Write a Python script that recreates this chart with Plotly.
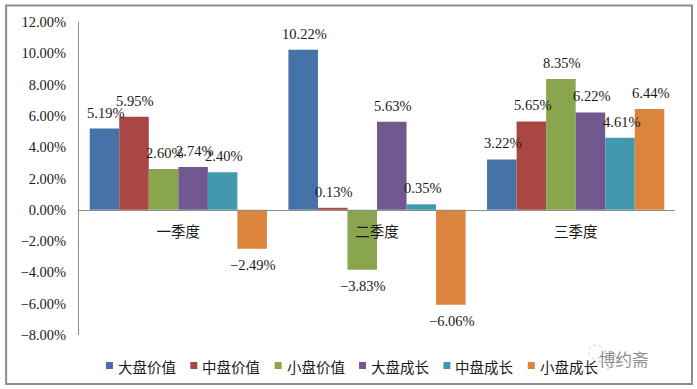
import plotly.graph_objects as go

categories = ["一季度", "二季度", "三季度"]
series_names = ["大盘价值", "中盘价值", "小盘价值", "大盘成长", "中盘成长", "小盘成长"]
colors = ["#4572A7", "#AA4643", "#89A54E", "#71588F", "#4198AF", "#DB843D"]
s_large_value = [5.19, 10.22, 3.22]
s_mid_value = [5.95, 0.13, 5.65]
s_small_value = [2.60, -3.83, 8.35]
s_large_growth = [2.74, 5.63, 6.22]
s_mid_growth = [2.40, 0.35, 4.61]
s_small_growth = [-2.49, -6.06, 6.44]
all_series = [s_large_value, s_mid_value, s_small_value, s_large_growth, s_mid_growth, s_small_growth]
y_ticks = [-8, -6, -4, -2, 0, 2, 4, 6, 8, 10, 12]
y_tick_labels = ["−8.00%", "−6.00%", "−4.00%", "−2.00%", "0.00%", "2.00%", "4.00%", "6.00%", "8.00%", "10.00%", "12.00%"]

W, H = 697, 389
L, R, T, B = 78.5, 675.5, 22, 335
PW, PH = R - L, B - T
BAR = 29.6
LATIN = "Liberation Serif"
CJK = "Noto Sans CJK SC"
TXT = "#1a1a1a"

def px(x):
    return (x - L) / PW

def py(y):
    return (B - y) / PH

fig = go.Figure()
ann = []
for i, (name, vals) in enumerate(zip(series_names, all_series)):
    fig.add_trace(go.Bar(x=categories, y=vals, name=name, marker=dict(color=colors[i], line_width=0),
                         showlegend=False))
    for c, v in zip(categories, vals):
        ann.append(dict(x=c, y=v, xref="x", yref="y", text=f"{v:.2f}%".replace("-", "−"), showarrow=False,
                        xshift=(i - 2.5) * BAR + 1, yshift=16 if v >= 0 else -16, yanchor="middle",
                        font=dict(family=LATIN, size=14.5, color=TXT)))

shapes = [dict(type="rect", xref="paper", yref="paper", x0=px(5.5), x1=px(692.5), y0=py(5.5), y1=py(384),
               line=dict(color="#8c8c8c", width=2), layer="below")]
for i, name in enumerate(series_names):
    mx = 105.5 + i * 84.5
    shapes.append(dict(type="rect", xref="paper", yref="paper", x0=px(mx), x1=px(mx + 7), y0=py(362), y1=py(369),
                       fillcolor=colors[i], line_width=0))
    ann.append(dict(x=px(mx + 10), y=py(366), xref="paper", yref="paper", text=name, showarrow=False,
                    xanchor="left", yanchor="middle", font=dict(family=CJK, size=14.5, color=TXT)))

# watermark
shapes.append(dict(type="circle", xref="paper", yref="paper", x0=px(589), x1=px(603), y0=py(345), y1=py(359),
                   line=dict(color="#cfcfcf", width=1, dash="dot")))
shapes.append(dict(type="circle", xref="paper", yref="paper", x0=px(600), x1=px(617), y0=py(351), y1=py(369),
                   fillcolor="rgba(255,255,255,0.6)", line=dict(color="#c4c4c4", width=1, dash="dot")))
ann.append(dict(x=px(651), y=py(359), xref="paper", yref="paper", text="博约斋", showarrow=False,
                yanchor="middle", font=dict(family=CJK, size=16.5, color="#8f8f8f")))

fig.update_layout(
    width=W, height=H, autosize=False,
    margin=dict(l=L, r=W - R, t=T, b=H - B),
    paper_bgcolor="white", plot_bgcolor="white",
    barmode="group", bargap=0.108, bargroupgap=0,
    showlegend=False,
    shapes=shapes, annotations=ann,
    xaxis=dict(anchor="free", position=0.4, showline=True, linecolor="#8c8c8c", linewidth=1, ticks="",
               showgrid=False, zeroline=False, tickfont=dict(family=CJK, size=14.5, color=TXT), ticklabelstandoff=9),
    yaxis=dict(range=[-8, 12], tickmode="array", tickvals=y_ticks, ticktext=y_tick_labels, showline=True,
               linecolor="#8c8c8c", linewidth=1, ticks="", showgrid=False, zeroline=False,
               tickfont=dict(family=LATIN, size=14.5, color=TXT), ticklabelstandoff=9),
)
fig.write_html("out.html", config={"displayModeBar": False},
               post_script="document.body.style.margin='0';document.body.style.overflow='hidden';")
